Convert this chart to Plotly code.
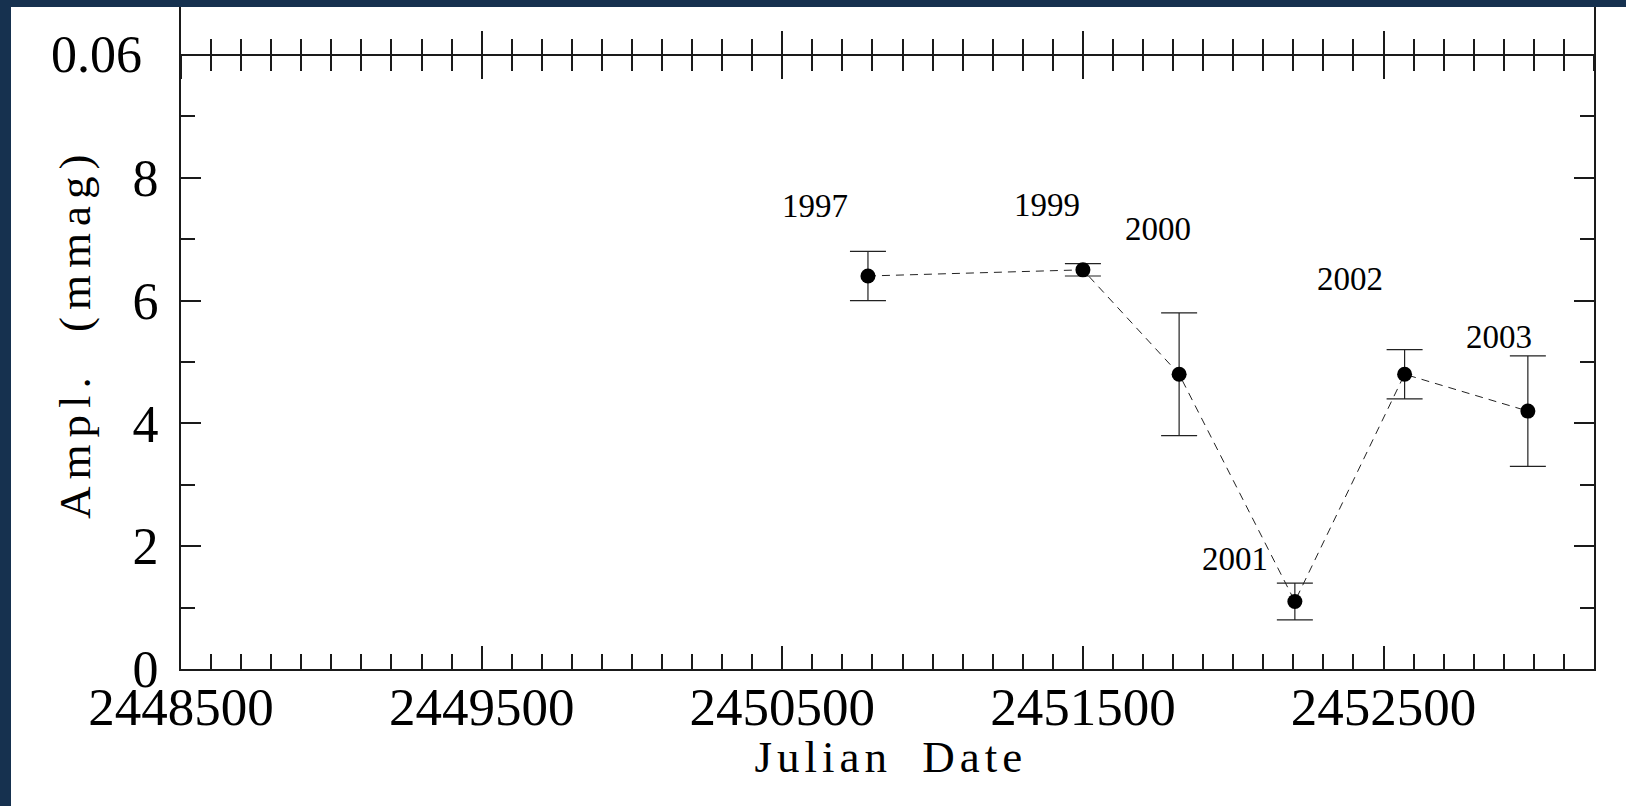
import plotly.graph_objects as go

# Pulsation amplitude per observing season
jd = [2450785, 2451500, 2451820, 2452205, 2452570, 2452980]
ampl = [6.4, 6.5, 4.8, 1.1, 4.8, 4.2]
ampl_err = [0.4, 0.1, 1.0, 0.3, 0.4, 0.9]
season = ["1997", "1999", "2000", "2001", "2002", "2003"]

x_range = [2448500, 2453200]
x_ticks = [2448500, 2449500, 2450500, 2451500, 2452500]
y_ticks = [0, 2, 4, 6, 8]
y_top = 10.78
upper_level = 10          # bottom edge of the panel above
upper_label = "0.06"

W, H = 1626, 806
M = dict(l=181, r=32, t=7, b=137)
PW = W - M["l"] - M["r"]
PH = H - M["t"] - M["b"]

FONT = "Liberation Serif"
INK = "#1a1a1a"
NAVY = "#16314f"

fig = go.Figure()

fig.add_trace(go.Scatter(
    x=jd, y=ampl, mode="lines",
    line=dict(color="#222222", width=1, dash="8px,6px"),
    hoverinfo="skip", showlegend=False,
))
fig.add_trace(go.Scatter(
    x=jd, y=ampl, mode="markers",
    marker=dict(color="black", size=15),
    error_y=dict(type="data", array=ampl_err, color="#222222",
                 thickness=1.2, width=18),
    showlegend=False,
))
# empty traces so the two overlaid axes of the upper panel edge get drawn
for ax in ("x2", "x3"):
    fig.add_trace(go.Scatter(x=[], y=[], xaxis=ax, yaxis="y",
                             showlegend=False, hoverinfo="skip"))

tick_common = dict(
    range=x_range, tickvals=x_ticks, showgrid=False, zeroline=False,
    tickcolor=INK, tickwidth=2, ticklen=23,
    showline=True, linecolor=INK, linewidth=2,
)

fig.update_layout(
    width=W, height=H, margin=M,
    paper_bgcolor=NAVY, plot_bgcolor="white",
    font=dict(family=FONT, color="black"),
    xaxis=dict(
        **tick_common,
        ticktext=[str(v) for v in x_ticks],
        ticks="inside", mirror=False,
        minor=dict(tick0=x_range[0], dtick=100, ticks="inside",
                   ticklen=15, tickwidth=1.6, tickcolor=INK),
        tickfont=dict(size=53, family=FONT, color="black"),
        ticklabelstandoff=-10,
    ),
    xaxis2=dict(
        **tick_common, overlaying="x", anchor="free",
        position=upper_level / y_top, side="bottom",
        ticks="outside", showticklabels=False,
        minor=dict(tick0=x_range[0], dtick=100, ticks="outside",
                   ticklen=15, tickwidth=1.6, tickcolor=INK),
    ),
    xaxis3=dict(
        **tick_common, overlaying="x", anchor="free",
        position=upper_level / y_top, side="bottom",
        ticks="inside", showticklabels=False,
        minor=dict(tick0=x_range[0], dtick=100, ticks="inside",
                   ticklen=15, tickwidth=1.6, tickcolor=INK),
    ),
    yaxis=dict(
        range=[0, y_top], tickvals=y_ticks,
        ticktext=[str(v) for v in y_ticks],
        ticks="inside", ticklen=20, tickwidth=2, tickcolor=INK,
        minor=dict(tick0=0, dtick=1, ticks="inside", ticklen=14,
                   tickwidth=1.6, tickcolor=INK),
        showline=True, linecolor=INK, linewidth=2, mirror="ticks",
        showgrid=False, zeroline=False,
        tickfont=dict(size=52, family=FONT, color="black"),
        ticklabelstandoff=10,
    ),
)

# white page inside the dark frame
fig.add_shape(
    type="rect", xref="paper", yref="paper", layer="below",
    x0=(11 - M["l"]) / PW, x1=(W - M["l"]) / PW,
    y0=-(M["b"]) / PH, y1=1.0,
    fillcolor="white", line=dict(width=0),
)

annotations = []
# season labels, offset from their points in pixels
label_offsets = [(-53, 70), (-36, 65), (-21, 145), (-60, 42), (-55, 95), (-29, 74)]
for xv, yv, s, (dx, dy) in zip(jd, ampl, season, label_offsets):
    annotations.append(dict(
        x=xv, y=yv, xref="x", yref="y", text=s, showarrow=False,
        xshift=dx, yshift=dy, xanchor="center", yanchor="middle",
        font=dict(size=33, family=FONT, color="black"),
    ))
annotations.append(dict(
    x=0, y=upper_level, xref="paper", yref="y", text=upper_label,
    showarrow=False, xanchor="right", yanchor="middle", xshift=-37,
    font=dict(size=52, family=FONT, color="black"),
))
annotations.append(dict(
    x=(891 - M["l"]) / PW, y=-(757 - (H - M["b"])) / PH,
    xref="paper", yref="paper", text="Julian Date", showarrow=False,
    xanchor="center", yanchor="middle",
    font=dict(size=45, family=FONT, color="black"),
))
annotations.append(dict(
    x=(75 - M["l"]) / PW, y=((H - M["b"]) - 334) / PH,
    xref="paper", yref="paper", text="Ampl. (mmag)", showarrow=False,
    textangle=-90, xanchor="center", yanchor="middle",
    font=dict(size=45, family=FONT, color="black"),
))
fig.update_layout(annotations=annotations)

spacing_js = """
document.querySelectorAll('text.annotation-text').forEach(function (t) {
  var s = t.textContent;
  if (s === 'Julian Date') { t.style.letterSpacing = '5px'; t.style.wordSpacing = '14px'; }
  if (s === 'Ampl. (mmag)') { t.style.letterSpacing = '7px'; t.style.wordSpacing = '20px'; }
});
"""

fig.write_html("out.html", post_script=spacing_js)
